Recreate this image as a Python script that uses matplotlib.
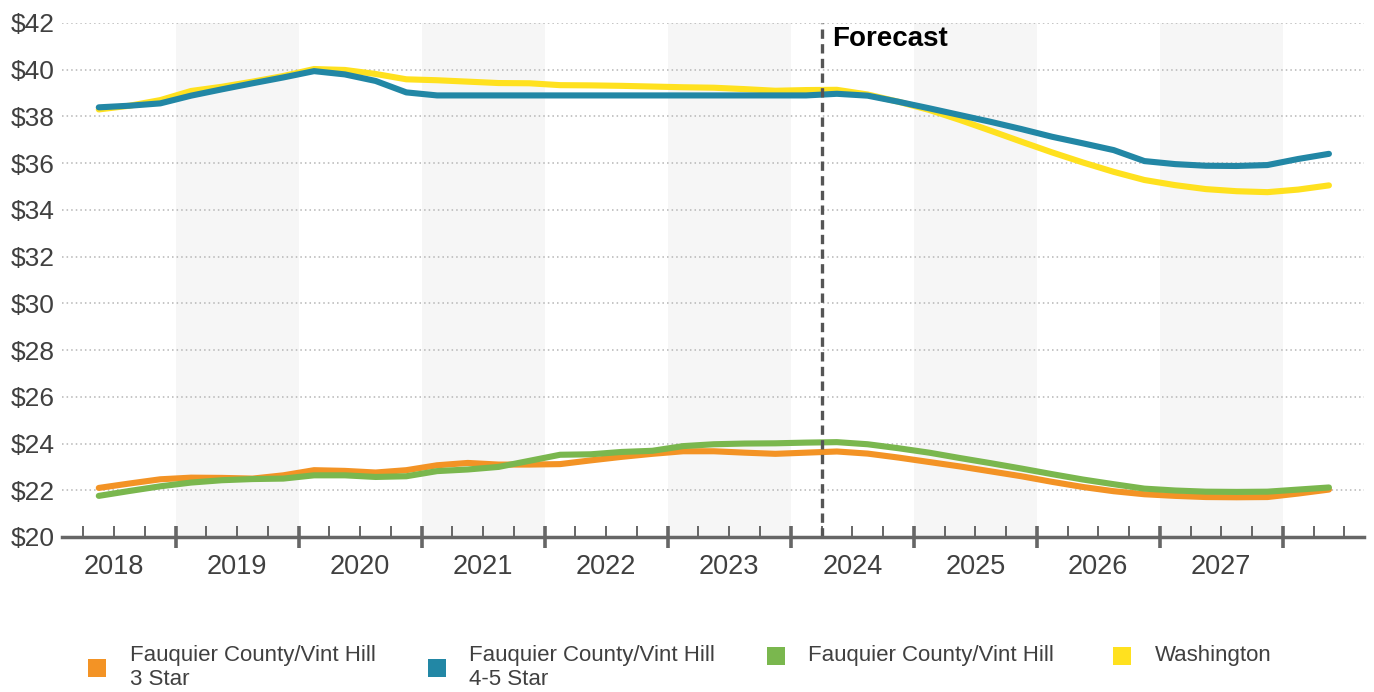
import matplotlib
matplotlib.use("Agg")
import matplotlib.pyplot as plt
from matplotlib.patches import Rectangle
from matplotlib.transforms import blended_transform_factory
import numpy as np

plt.rcParams['font.family'] = ['Liberation Sans', 'DejaVu Sans']

# ---- data (quarterly, 2018 Q2 .. 2028 Q2) ----
start_year = 2018
start_quarter = 2
years_labeled = [2018, 2019, 2020, 2021, 2022, 2023, 2024, 2025, 2026, 2027]
shaded_years = [2019, 2021, 2023, 2025, 2027]
forecast_start = 2024.25
y_ticks = [20, 22, 24, 26, 28, 30, 32, 34, 36, 38, 40, 42]

series_names = ["Fauquier County/Vint Hill\n3 Star",
                "Fauquier County/Vint Hill\n4-5 Star",
                "Fauquier County/Vint Hill",
                "Washington"]
series_colors = ["#F39325", "#2287A5", "#7AB74E", "#FFE11F"]

orange_3star = [22.10, 22.29, 22.47, 22.54, 22.53, 22.50, 22.64, 22.86, 22.83, 22.76,
                22.86, 23.07, 23.17, 23.10, 23.10, 23.12, 23.28, 23.43, 23.56, 23.67,
                23.67, 23.61, 23.56, 23.61, 23.66, 23.57, 23.40, 23.21, 23.02, 22.81,
                22.60, 22.36, 22.14, 21.96, 21.83, 21.76, 21.71, 21.70, 21.71, 21.86,
                22.03]
blue_45star = [38.39, 38.46, 38.56, 38.89, 39.16, 39.42, 39.67, 39.94, 39.80, 39.52,
               39.03, 38.90, 38.90, 38.90, 38.90, 38.90, 38.90, 38.90, 38.90, 38.90,
               38.90, 38.90, 38.90, 38.90, 38.97, 38.89, 38.63, 38.35, 38.06, 37.77,
               37.46, 37.13, 36.85, 36.56, 36.09, 35.96, 35.89, 35.88, 35.92, 36.18,
               36.40]
green_all = [21.76, 21.97, 22.17, 22.33, 22.43, 22.48, 22.50, 22.64, 22.64, 22.57,
             22.60, 22.82, 22.89, 23.00, 23.26, 23.52, 23.54, 23.64, 23.69, 23.89,
             23.97, 24.00, 24.01, 24.04, 24.06, 23.97, 23.80, 23.61, 23.38, 23.16,
             22.93, 22.69, 22.46, 22.26, 22.07, 21.99, 21.94, 21.93, 21.94, 22.03,
             22.12]
yellow_dc = [38.30, 38.46, 38.70, 39.09, 39.27, 39.49, 39.73, 40.03, 39.99, 39.82,
             39.59, 39.55, 39.49, 39.43, 39.42, 39.34, 39.33, 39.31, 39.28, 39.25,
             39.23, 39.17, 39.10, 39.13, 39.14, 38.94, 38.63, 38.28, 37.85, 37.39,
             36.92, 36.46, 36.03, 35.63, 35.28, 35.06, 34.89, 34.80, 34.76, 34.87,
             35.05]

n = len(orange_3star)
x = start_year + (start_quarter - 1) / 4 + 0.125 + 0.25 * np.arange(n)

# ---- figure ----
W, H = 1374, 692
fig = plt.figure(figsize=(W / 100, H / 100), dpi=100)
L, R, T, B = 62, 1364, 23, 537
ax = fig.add_axes([L / W, 1 - B / H, (R - L) / W, (B - T) / H])

ax.set_xlim(2018.076, 2028.66)
ax.set_ylim(20, 42)

text_color = "#404040"
axis_color = "#666666"

for yr in shaded_years:
    ax.axvspan(yr, yr + 1, color="#F6F6F6", zorder=0, lw=0)

for v in y_ticks[1:]:
    ax.axhline(v, color="#B5B5B5", lw=1.1, ls=(0, (1, 2)), zorder=1)

lw = 4.4
ax.plot(x, yellow_dc, color=series_colors[3], lw=lw, zorder=3, solid_capstyle='round')
ax.plot(x, blue_45star, color=series_colors[1], lw=lw, zorder=4, solid_capstyle='round')
ax.plot(x, green_all, color=series_colors[2], lw=lw, zorder=3, solid_capstyle='round')
ax.plot(x, orange_3star, color=series_colors[0], lw=lw, zorder=2, solid_capstyle='round')

ax.axvline(forecast_start, color="#555555", lw=2.4, ls=(0, (2.8, 1.6)), zorder=5)
ax.text(forecast_start + 0.09, 41.33, "Forecast", fontsize=20, fontweight='bold',
        color="black", va='center', ha='left', zorder=6)

for s in ["top", "right", "left"]:
    ax.spines[s].set_visible(False)
ax.spines["bottom"].set_color(axis_color)
ax.spines["bottom"].set_linewidth(2.5)
ax.spines["bottom"].set_zorder(6)

ax.set_yticks(y_ticks)
ax.set_yticklabels([f"${v}" for v in y_ticks], fontsize=19, color=text_color)
ax.tick_params(axis='y', length=0, pad=5)

major = list(range(2019, 2029))
minor = [yr + q / 4 for yr in range(2018, 2029) for q in (1, 2, 3)]
minor = [m for m in minor if 2018.076 < m < 2028.66]
ax.set_xticks(major)
ax.set_xticklabels([])
ax.set_xticks(minor, minor=True)
ax.tick_params(axis='x', which='major', direction='inout', length=16, width=2.6,
               color=axis_color)
ax.tick_params(axis='x', which='minor', direction='in', length=8, width=1.4,
               color=axis_color)

trans = blended_transform_factory(ax.transData, ax.transAxes)
for yr in years_labeled:
    ax.text(yr + 0.5, -30 / (B - T), str(yr), transform=trans, ha='center',
            va='center', fontsize=19.5, color=text_color)

# ---- legend ----
leg_items = [
    (88, 668, 130, 667.5),
    (428, 668, 469, 667.5),
    (767, 656, 808, 655),
    (1113, 656, 1155, 655),
]
sq = 18
for (sx, sy, tx, ty), name, col in zip(leg_items, series_names, series_colors):
    fig.patches.append(Rectangle((sx / W, 1 - (sy + sq / 2) / H), sq / W, sq / H,
                                 transform=fig.transFigure, color=col, lw=0))
    fig.text(tx / W, 1 - ty / H, name, fontsize=16, color=text_color,
             va='center', ha='left', linespacing=1.2)

fig.savefig("out.png", dpi=100)
